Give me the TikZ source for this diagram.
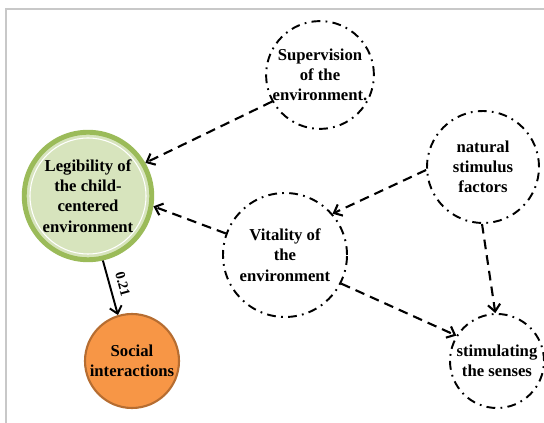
\documentclass[tikz,border=0pt]{standalone}
\usepackage{fontspec}
\setmainfont{Liberation Serif}
\usetikzlibrary{arrows.meta}

\definecolor{legibfill}{HTML}{D7E4BD}
\definecolor{legibline}{HTML}{9BBB59}
\definecolor{socialfill}{HTML}{F79646}
\definecolor{socialline}{HTML}{B66D31}
\definecolor{framegray}{HTML}{C8C8C8}

\begin{document}
\begin{tikzpicture}[
  every node/.style={font=\fontsize{9.5}{11.5}\selectfont\bfseries, align=center},
  factor/.style={circle, draw=black, line width=1.1pt,
    dash pattern=on 5pt off 3pt on 1pt off 3pt, inner sep=0pt},
  link/.style={line width=1.2pt, dash pattern=on 5.5pt off 3.5pt,
    -{Straight Barb[length=4pt,width=7pt]}},
  effect/.style={line width=1.1pt, -{Straight Barb[length=4pt,width=7pt]}}
]
\useasboundingbox (0, 0) rectangle (10.88, 8.46);
\draw [framegray, line width=1.2pt] (0.12, 0) -- (0.12, 8.28) -- (10.88, 8.28);

\node [circle, fill=legibfill, draw=legibline, line width=2.8pt,
  minimum size=2.55cm, inner sep=0pt] (legib) at (1.76, 4.54)
  {Legibility of\\the child-\\centered\\environment};
\draw [white, line width=0.6pt] (legib.center) circle [radius=1.16];

\node [circle, fill=socialfill, draw=socialline, line width=1.2pt,
  minimum size=1.88cm, inner sep=0pt] (social) at (2.64, 1.24)
  {Social\\interactions};

\node [factor, minimum size=2.12cm] (superv) at (6.40, 6.96)
  {Supervision\\of the\\environment.};
\node [factor, minimum size=2.48cm] (vital) at (5.70, 3.36)
  {Vitality of\\the\\environment};
\node [factor, minimum size=2.24cm] (natural) at (9.66, 5.12)
  {natural\\stimulus\\factors};
\node [factor, minimum size=1.88cm] (stimul) at (9.94, 1.24)
  {stimulating\\the senses};

% connectors
\draw [link] (superv.209) -- (legib.30);
\draw [link] (vital.160) -- (legib.-9);
\draw [link] (natural.183) -- (vital.41);
\draw [link] (natural.-91) -- (stimul.92);
\draw [link] (vital.-27) -- (stimul.148);

\draw [effect] (legib.-77) -- node [sloped, above, inner sep=4pt,
  font=\fontsize{8}{9}\selectfont\bfseries] {0.21} (social.107);
\end{tikzpicture}
\end{document}
